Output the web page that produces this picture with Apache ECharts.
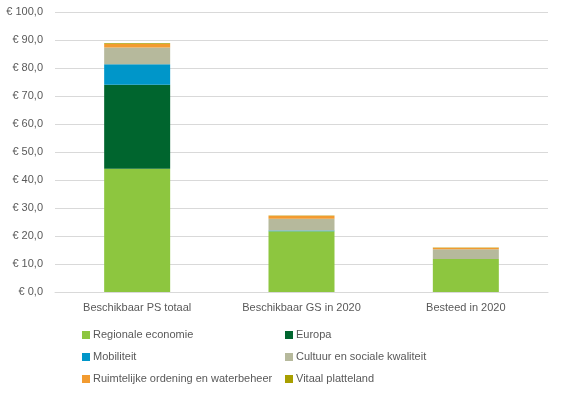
<!DOCTYPE html>
<html><head><meta charset="utf-8">
<script src="https://cdn.jsdelivr.net/npm/echarts@6/dist/echarts.min.js"></script>
<style>html,body{margin:0;padding:0;background:#fff}#c{width:564px;height:398px}</style>
</head><body><div id="c"></div>
<script>
var categories = ['Beschikbaar PS totaal', 'Beschikbaar GS in 2020', 'Besteed in 2020'];
var regionaleEconomie = [44.0, 21.7, 11.8];
var europa = [30.0, 0.0, 0.0];
var mobiliteit = [7.3, 0.3, 0.0];
var cultuur = [6.0, 4.2, 3.5];
var ruimtelijke = [1.3, 1.0, 0.5];
var vitaal = [0.2, 0.1, 0.1];
var yTicks = [0, 10, 20, 30, 40, 50, 60, 70, 80, 90, 100];

var names = ['Regionale economie','Europa','Mobiliteit','Cultuur en sociale kwaliteit','Ruimtelijke ordening en waterbeheer','Vitaal platteland'];
var datas = [regionaleEconomie, europa, mobiliteit, cultuur, ruimtelijke, vitaal];
var colors = ['#8DC63F','#00652E','#0096C9','#B6B99C','#F29B30','#A89F00'];
var font = 'Liberation Sans';
var series = names.map(function(n,i){
  return {name:n,type:'bar',stack:'s',data:datas[i],barWidth:66,itemStyle:{color:colors[i]}};
});
var legendCommon = {orient:'vertical',itemWidth:8,itemHeight:8,itemGap:8,icon:'rect',
  textStyle:{color:'#595959',fontSize:11,fontFamily:font,lineHeight:14,padding:[0,0,0,-2]}};
var chart = echarts.init(document.getElementById('c'));
chart.setOption({
  animation:false,
  color:colors,
  grid:{left:55,right:16,top:12,bottom:106},
  xAxis:{type:'category',data:categories,
    axisLine:{lineStyle:{color:'#D9D9D9'}},axisTick:{show:false},
    axisLabel:{color:'#595959',fontSize:11,fontFamily:font,margin:10}},
  yAxis:{type:'value',min:yTicks[0],max:yTicks[yTicks.length-1],interval:10,
    axisLine:{show:false},axisTick:{show:false},
    splitLine:{lineStyle:{color:'#D9D9D9'}},
    axisLabel:{color:'#595959',fontSize:11,fontFamily:font,margin:12,
      formatter:function(v){return '€ ' + v.toFixed(1).replace('.', ',');}}},
  legend:[
    Object.assign({left:77,top:323,data:[names[0],names[2],names[4]]},legendCommon),
    Object.assign({left:280,top:323,data:[names[1],names[3],names[5]]},legendCommon)
  ],
  series:series
});
</script></body></html>
